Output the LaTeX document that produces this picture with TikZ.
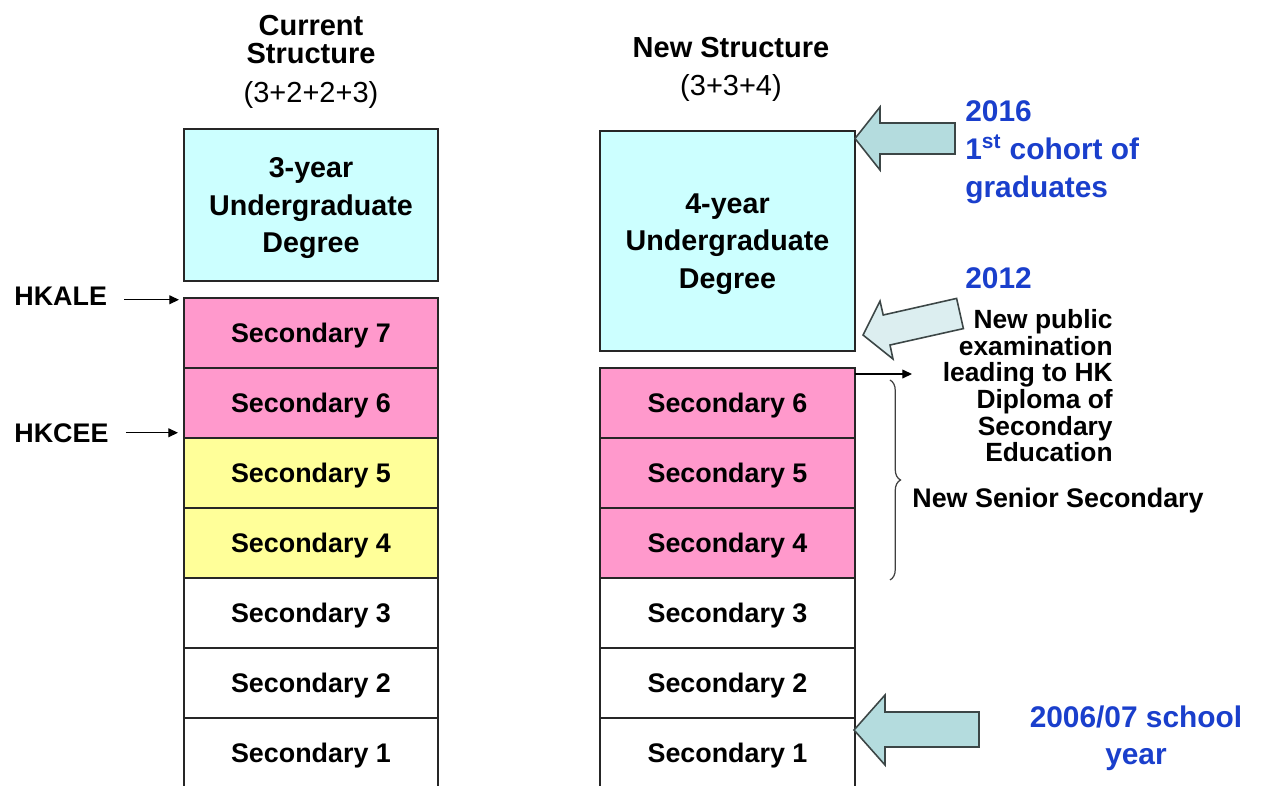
\documentclass[tikz,border=0pt]{standalone}
\usepackage{fontspec}
\setmainfont{Liberation Sans}
\usetikzlibrary{positioning,arrows.meta,decorations.pathreplacing}

\definecolor{degcyan}{HTML}{CCFFFF}
\definecolor{seniorpink}{HTML}{FF99CC}
\definecolor{oldyellow}{HTML}{FFFF99}
\definecolor{yearblue}{HTML}{1A3FCC}
\definecolor{arrowteal}{HTML}{B4DCDE}
\definecolor{arrowpale}{HTML}{DCEEF0}
\definecolor{arrowedge}{HTML}{3C4646}

\tikzset{
  yearbox/.style={draw=black!85, line width=0.9pt, minimum width=5.08cm, minimum height=1.4cm,
    outer sep=0pt, inner sep=0pt, align=center, text depth=0pt, font=\bfseries\fontsize{15.3}{18}\selectfont},
  degbox/.style={draw=black!85, line width=0.9pt, minimum width=5.08cm, outer sep=0pt, inner sep=0pt,
    align=center, fill=degcyan, text depth=0pt, font=\bfseries\fontsize{16.3}{21.3}\selectfont},
  headtext/.style={inner sep=0pt, align=center, font=\bfseries\fontsize{16.5}{15.9}\selectfont},
  headnum/.style={inner sep=0pt, font=\fontsize{16.5}{18}\selectfont},
  sidetext/.style={inner sep=0pt, font=\bfseries\fontsize{15.3}{18}\selectfont},
  examtext/.style={inner sep=0pt, align=right, font=\bfseries\fontsize{15}{15.2}\selectfont},
  bluetext/.style={inner sep=0pt, align=left, text=yearblue, font=\bfseries\fontsize{17}{21.6}\selectfont},
  ptr/.style={line width=0.7pt, -{Triangle[length=5.5pt,width=5pt]}},
  blockarrow/.style={draw=arrowedge, line width=0.9pt, line join=miter},
  bracket/.style={draw=black!75, line width=0.7pt, decorate, decoration={brace, amplitude=6pt}}
}

\begin{document}
\begin{tikzpicture}[x=0.02cm, y=-0.02cm]
\useasboundingbox (0,0) rectangle (1261,785);

% Headings
\node[headtext, anchor=north] (curhead) at (311,15) {Current\\Structure};
\node[headnum, anchor=base] (curnum) at (311,102) {(3+2+2+3)};
\node[headtext, anchor=base] (newhead) at (731,57) {New Structure};
\node[headnum, anchor=base] (newnum) at (731,95) {(3+3+4)};

% Current structure
\node[degbox, minimum height=3.04cm] (curdeg) at (311,205) {3-year\\Undergraduate\\Degree};
\node[yearbox, fill=seniorpink] (cur7) at (311,333) {Secondary 7};
\node[yearbox, fill=seniorpink, below=0pt of cur7] (cur6) {Secondary 6};
\node[yearbox, fill=oldyellow, below=0pt of cur6] (cur5) {Secondary 5};
\node[yearbox, fill=oldyellow, below=0pt of cur5] (cur4) {Secondary 4};
\node[yearbox, below=0pt of cur4] (cur3) {Secondary 3};
\node[yearbox, below=0pt of cur3] (cur2) {Secondary 2};
\node[yearbox, below=0pt of cur2] (cur1) {Secondary 1};

% New structure
\node[degbox, minimum width=5.1cm, minimum height=4.4cm] (newdeg) at (727.5,241) {4-year\\Undergraduate\\Degree};
\node[yearbox, fill=seniorpink, minimum width=5.1cm] (new6) at (727.5,403) {Secondary 6};
\node[yearbox, fill=seniorpink, minimum width=5.1cm, below=0pt of new6] (new5) {Secondary 5};
\node[yearbox, fill=seniorpink, minimum width=5.1cm, below=0pt of new5] (new4) {Secondary 4};
\node[yearbox, minimum width=5.1cm, below=0pt of new4] (new3) {Secondary 3};
\node[yearbox, minimum width=5.1cm, below=0pt of new3] (new2) {Secondary 2};
\node[yearbox, minimum width=5.1cm, below=0pt of new2] (new1) {Secondary 1};

% Exams on the left
\node[sidetext, anchor=base west] (hkale) at (14,305) {HKALE};
\node[sidetext, anchor=base west] (hkcee) at (14,442) {HKCEE};
\draw[ptr] ([shift={(17,4)}]hkale.east) -- ([shift={(-5,4)}]hkale.east -| cur7.west);
\draw[ptr] ([xshift=0.34cm]hkcee.east) -- ([xshift=-0.12cm]hkcee.east -| cur6.west);

% Block arrows
\draw[blockarrow, fill=arrowteal] (855,138.5) -- (880,107) -- (880,123) -- (955,123) -- (955,154) -- (880,154) -- (880,170) -- cycle;
\draw[blockarrow, fill=arrowpale] (863,335) -- (880,301) -- (883.2,315) -- (956.6,298.4) -- (963.4,328.6) -- (890,345) -- (893,359) -- cycle;
\draw[blockarrow, fill=arrowteal] (854,730) -- (885,695) -- (885,712) -- (979,712) -- (979,747) -- (885,747) -- (885,765) -- cycle;

% Notes on the right
\node[bluetext, anchor=north west] (grad) at (965,100) {2016\\1\textsuperscript{st} cohort of\\graduates};
\node[bluetext, anchor=north west] (year12) at (965,267) {2012};
\node[examtext, anchor=north east] (exam) at (1113,309) {New public\\examination\\leading to HK\\Diploma of\\Secondary\\Education};
\node[bluetext, align=center, anchor=north] (start) at (1136,705) {2006/07 school\\year};

\coordinate (examtip) at (912,374);
\draw[ptr] (new6.north east |- examtip) -- (examtip);

\draw[bracket] ([shift={(35,12)}]new6.north east) -- ([shift={(35,2)}]new4.south east);
\node[sidetext, anchor=base west] (nss) at (912,507) {New Senior Secondary};
\end{tikzpicture}
\end{document}
